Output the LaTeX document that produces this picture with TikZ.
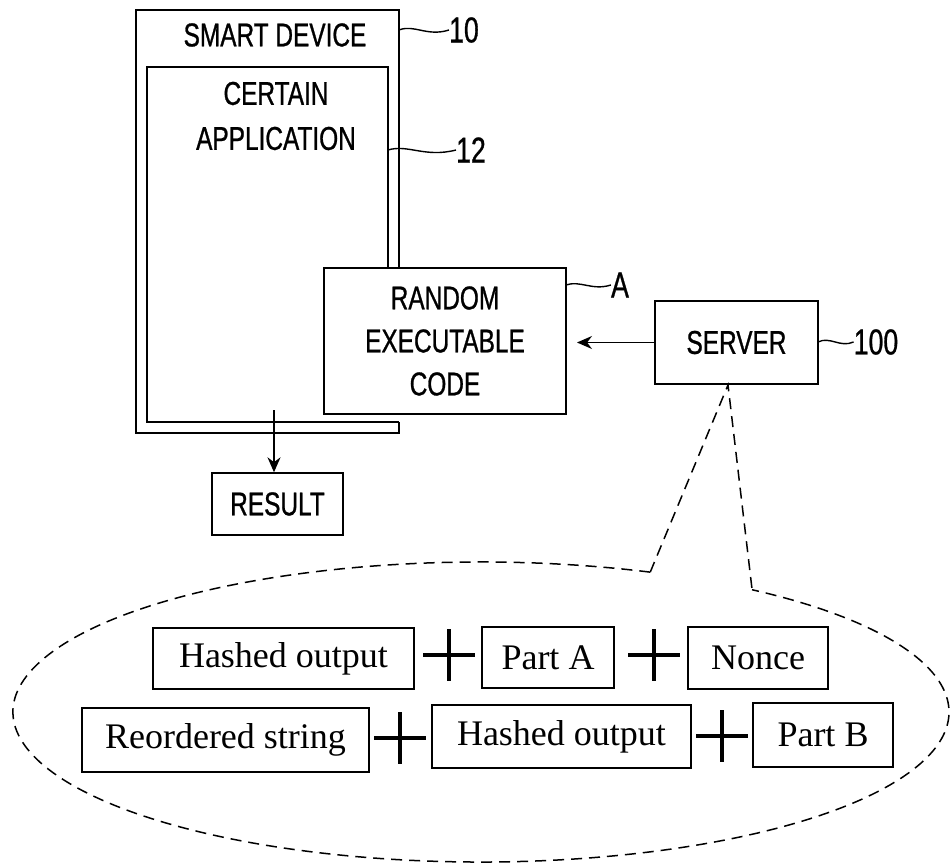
\documentclass[tikz,border=0pt]{standalone}
\usepackage{fontspec}
\setmainfont{Liberation Serif}
\newfontfamily\capsfont[FakeStretch=0.74,FakeBold=0.8]{Liberation Sans}
\usetikzlibrary{arrows.meta,calc}
\tikzset{
  capsbox/.style={draw=black,line width=1.4pt,fill=white,inner sep=0pt,align=center,
    font=\capsfont\fontsize{33}{43}\selectfont},
  captext/.style={inner sep=0pt,align=center,font=\capsfont\fontsize{33}{45}\selectfont},
  reflabel/.style={inner sep=0pt,font=\capsfont\fontsize{36}{40}\selectfont},
  leader/.style={line width=1.4pt},
  wall/.style={line width=1.4pt},
  strbox/.style={draw=black,line width=2pt,inner sep=0pt,font=\fontsize{36}{40}\selectfont},
  plusmark/.style={minimum width=52pt,minimum height=52pt,inner sep=0pt,
    path picture={\draw[line width=4pt] (path picture bounding box.north) -- (path picture bounding box.south)
      (path picture bounding box.west) -- (path picture bounding box.east);}},
  flow/.style={line width=1.6pt,-{Stealth[length=15pt,width=13pt]}},
  bubble/.style={line width=1.5pt,dash pattern=on 11pt off 7pt}
}
\begin{document}
\begin{tikzpicture}[x=1pt,y=-1pt]
\useasboundingbox (0,0) rectangle (951,867);
% smart device (outer) and application (inner) outlines
\draw[wall] (399,268) -- (399,10) -- (136,10) -- (136,433) -- (399,433) -- (399,422);
\draw[wall] (388,268) -- (388,67) -- (147,67) -- (147,422) -- (399,422);
\node[captext] (devtext) at (275,35) {SMART DEVICE};
\node[captext] (apptext) at (276,116) {CERTAIN\\APPLICATION};
% random executable code
\node[capsbox,minimum width=242pt,minimum height=146pt] (rand) at (445,341) {RANDOM\\EXECUTABLE\\CODE};
% server
\node[capsbox,minimum width=163pt,minimum height=83pt] (server) at (736.5,342.5) {SERVER};
% result
\node[capsbox,minimum width=131pt,minimum height=62pt] (result) at (277.5,504) {RESULT};
% reference labels
\node[reflabel] (l10) at (464,30) {10};
\node[reflabel] (l12) at (471,150) {12};
\node[reflabel] (lA) at (620,285) {A};
\node[reflabel] (l100) at (876,342) {100};
\coordinate (d10) at (399,30);
\coordinate (d12) at (388,150);
\coordinate (dA) at (566,285);
\coordinate (d100) at (818,342);
\draw[leader] (d10) .. controls (414,24) and (427,37) .. (l10.west);
\draw[leader] (d12) .. controls (408,144) and (425,158) .. (l12.west);
\draw[leader] (dA) .. controls (580,280) and (592,291) .. (lA.west);
\draw[leader] (d100) .. controls (830,336) and (840,348) .. (l100.west);
% arrows
\coordinate (tipx) at (577,0);
\draw[flow] (server.west) -- (server.west -| tipx);
\coordinate (resstart) at (274,410);
\draw[flow] (resstart) -- (resstart |- result.north);
% callout bubble
\coordinate (E) at (481,712);
\coordinate (apex) at (728,385);
\coordinate (cL) at ($(E)+(68.8:468pt and 150pt)$);
\coordinate (cR) at ($(E)+(54.6:468pt and 150pt)$);
\draw[bubble] (cL) arc[start angle=68.8,end angle=414.6,x radius=468pt,y radius=150pt];
\draw[bubble] (cL) -- (apex) -- (cR);
% strings
\node[strbox,minimum width=261pt,minimum height=61pt] (ho1) at (283.5,658.5) {Hashed output};
\node[plusmark] (p1) at (449,655) {};
\node[strbox,minimum width=132pt,minimum height=61pt] (pa) at (548,657.5) {Part A};
\node[plusmark] (p2) at (654,655) {};
\node[strbox,minimum width=140pt,minimum height=62pt] (nonce) at (758,658) {Nonce};
\node[strbox,minimum width=287pt,minimum height=64pt] (rs) at (225.5,740) {Reordered string};
\node[plusmark] (p3) at (400,738) {};
\node[strbox,minimum width=259pt,minimum height=63pt] (ho2) at (561.5,736.5) {Hashed output};
\node[plusmark] (p4) at (722,736) {};
\node[strbox,minimum width=140pt,minimum height=64pt] (pb) at (823,735) {Part B};
\end{tikzpicture}
\end{document}
